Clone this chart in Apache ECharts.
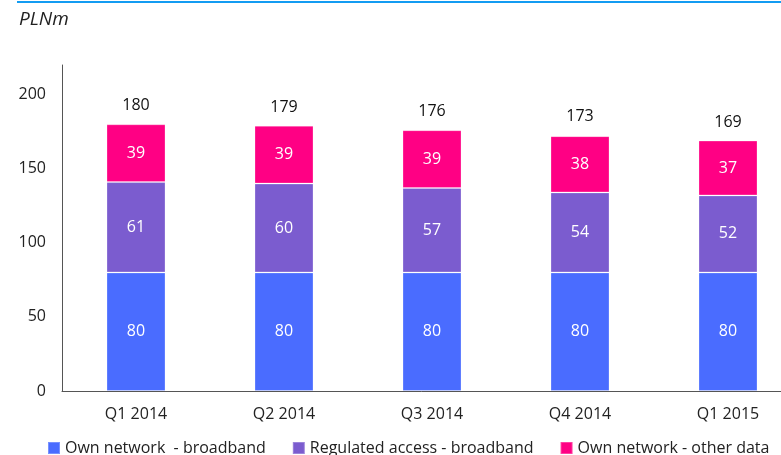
<!DOCTYPE html>
<html>
<head>
<meta charset="utf-8">
<script src="https://cdn.jsdelivr.net/npm/echarts@6/dist/echarts.min.js"></script>
<style>
  html, body { margin: 0; padding: 0; background: #fff; }
  #app { width: 781px; height: 455px; }
</style>
</head>
<body>
<div id="app"></div>
<script>
// 数据
let quarters = ['Q1 2014', 'Q2 2014', 'Q3 2014', 'Q4 2014', 'Q1 2015'];
let ownBroadband = [80, 80, 80, 80, 80];
let regulatedBroadband = [61, 60, 57, 54, 52];
let ownOther = [39, 39, 39, 38, 37];
let totals = [180, 179, 176, 173, 169];

let font = '"Open Sans", "Noto Sans", sans-serif';

// 柱子公共样式
function barSeries(name, data, color) {
    return {
        name: name,
        type: 'bar',
        stack: 'total',
        barWidth: 59,
        data: data,
        itemStyle: {
            color: color,
            borderColor: 'rgba(255,255,255,0.25)',
            borderWidth: 1
        },
        label: {
            show: true,
            position: 'inside',
            color: '#fff',
            fontFamily: font,
            fontSize: 16
        }
    };
}

let myChart = echarts.init(document.getElementById('app'));
myChart.setOption({
    animation: false,
    textStyle: { fontFamily: font },
    graphic: [{
        type: 'line',
        shape: { x1: 17, y1: 2, x2: 781, y2: 2 },
        style: { stroke: '#139cf2', lineWidth: 2 }
    }, {
        type: 'text',
        left: 19,
        top: 10,
        style: {
            text: 'PLNm',
            font: 'italic 19px ' + font,
            fill: '#222'
        }
    }],
    legend: {
        left: 42,
        top: 435,
        width: 900,
        icon: 'rect',
        itemWidth: 12,
        itemHeight: 12,
        itemGap: 26,
        textStyle: { fontFamily: font, fontSize: 16, color: '#222' },
        data: ['Own network  - broadband', 'Regulated access - broadband', 'Own network - other data']
    },
    grid: {
        left: 62,
        top: 65,
        width: 740,
        height: 326,
        outerBoundsMode: 'none'
    },
    xAxis: {
        type: 'category',
        data: quarters,
        axisLine: { lineStyle: { color: '#555' } },
        axisTick: { show: false },
        axisLabel: { color: '#222', fontSize: 16, margin: 15, fontFamily: font }
    },
    yAxis: {
        type: 'value',
        min: 0,
        max: 220,
        interval: 50,
        axisLine: { show: true, lineStyle: { color: '#555' } },
        axisTick: { show: false },
        splitLine: { show: false },
        axisLabel: { color: '#222', fontSize: 16, margin: 16, showMaxLabel: false, fontFamily: font }
    },
    series: [
        barSeries('Own network  - broadband', ownBroadband, '#4a6cff'),
        barSeries('Regulated access - broadband', regulatedBroadband, '#7b5ccf'),
        barSeries('Own network - other data', ownOther, '#ff0084'),
        {
            name: 'total',
            type: 'scatter',
            symbolSize: 1,
            itemStyle: { color: 'rgba(0,0,0,0)' },
            data: totals,
            label: {
                show: true,
                position: 'top',
                distance: 10,
                color: '#111',
                opacity: 1,
                fontSize: 16,
                fontFamily: font
            },
            emphasis: { disabled: true },
            tooltip: { show: false }
        }
    ]
});
</script>
</body>
</html>
